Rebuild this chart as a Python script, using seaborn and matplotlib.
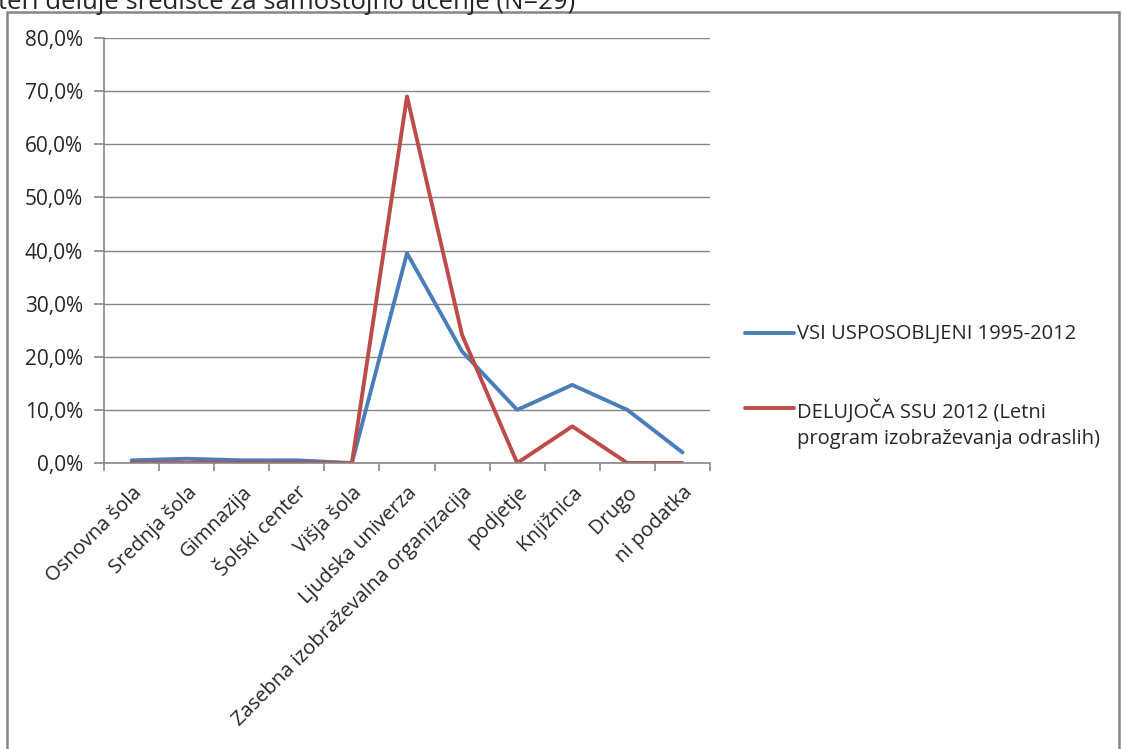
import numpy as np
import pandas as pd
import matplotlib
matplotlib.use("Agg")
import matplotlib.pyplot as plt
import seaborn as sns
from matplotlib.patches import Rectangle
from matplotlib.ticker import FuncFormatter, FixedLocator
from matplotlib.lines import Line2D

# Categories and series (shares)
categories = ["Osnovna šola", "Srednja šola", "Gimnazija", "Šolski center", "Višja šola",
              "Ljudska univerza", "Zasebna izobraževalna organizacija", "podjetje",
              "Knjižnica", "Drugo", "ni podatka"]
vsi_usposobljeni = [0.005, 0.008, 0.005, 0.005, 0.0, 0.395, 0.21, 0.10, 0.147, 0.10, 0.02]
delujoca_ssu = [0.0, 0.0, 0.0, 0.0, 0.0, 0.690, 0.241, 0.0, 0.069, 0.0, 0.0]
series_names = ["VSI USPOSOBLJENI 1995-2012",
                "DELUJOČA SSU 2012 (Letni\nprogram izobraževanja odraslih)"]
colors = ["#4A7EBB", "#BE4B48"]
title_text = "teri deluje središče za samostojno učenje (N=29)"

df = pd.DataFrame({
    "kategorija": categories * 2,
    "delez": vsi_usposobljeni + delujoca_ssu,
    "serija": [series_names[0]] * len(categories) + [series_names[1]] * len(categories),
})

sns.set_style("white")
plt.rcParams['font.family'] = ['Open Sans', 'DejaVu Sans']

fig = plt.figure(figsize=(11.22, 7.49), dpi=100)
W, H = 1122, 749
ax = fig.add_axes([104 / W, 1 - 463 / H, (710 - 104) / W, (463 - 38) / H])

sns.lineplot(data=df, x="kategorija", y="delez", hue="serija", palette=colors,
             sort=False, linewidth=2.8, ax=ax, legend=False)

ax.set_xlim(-0.5, len(categories) - 0.5)
ax.set_ylim(0, 0.8)
ax.set_yticks(np.arange(0, 0.81, 0.1))
ax.yaxis.set_major_formatter(FuncFormatter(lambda v, p: f"{v * 100:.1f}%".replace(".", ",")))
ax.grid(axis="y", color="#868686", linewidth=1)
ax.set_axisbelow(True)
for s in ["top", "right"]:
    ax.spines[s].set_visible(False)
for s in ["left", "bottom"]:
    ax.spines[s].set_color("#868686")
    ax.spines[s].set_linewidth(1.2)

ax.set_xticks(range(len(categories)))
ax.set_xticklabels(categories, rotation=45, ha="right", rotation_mode="anchor", fontsize=14.5)
ax.xaxis.set_minor_locator(FixedLocator(np.arange(-0.5, len(categories), 1)))
ax.tick_params(axis="x", which="major", length=0, pad=14)
ax.tick_params(axis="x", which="minor", length=6, color="#868686", width=1.2, direction="out", bottom=True)
ax.tick_params(axis="y", length=7, color="#868686", width=1.2, direction="out", left=True,
               labelsize=15, pad=8)
ax.set_xlabel("")
ax.set_ylabel("")

# legend to the right of the plot, drawn by hand so the handle sits on the first text line
legend_y = [333, 408]
for name, col, yy in zip(series_names, colors, legend_y):
    fig.add_artist(Line2D([745 / W, 794 / W], [1 - yy / H, 1 - yy / H], color=col, linewidth=2.8))
    fig.text(797 / W, 1 - (yy - 9) / H, name, fontsize=14.5, va="top", ha="left",
             linespacing=1.4)

# outer chart frame
fig.add_artist(Rectangle((7 / W, -0.05), (1119 - 7) / W, 1.05 - 12 / H, transform=fig.transFigure,
                         fill=False, edgecolor="#868686", linewidth=1.8))
fig.text(-2 / W, 1 - 9 / H, title_text, fontsize=18.5, va="baseline", ha="left")

fig.savefig("out.png", dpi=100)
